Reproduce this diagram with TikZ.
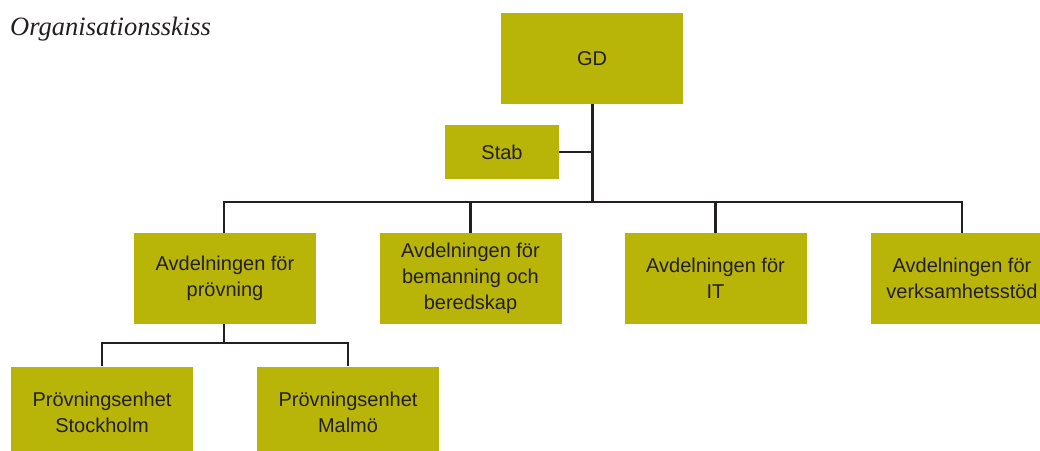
\documentclass[tikz,border=0pt]{standalone}
\usepackage{fontspec}
\setmainfont{Liberation Sans}
\newfontfamily\titlefont{Liberation Serif}
\definecolor{olive}{RGB}{184,180,8}
\definecolor{ink}{RGB}{35,31,32}
\begin{document}
\begin{tikzpicture}[x=1pt,y=-1pt,
    unit/.style={fill=olive,text=ink,align=center,inner sep=0pt,
      minimum width=182pt,minimum height=91pt,
      font=\fontsize{20}{26}\selectfont},
    small/.style={unit,minimum width=114pt,minimum height=54pt},
    link/.style={draw=ink,line width=2.8pt}]
      \clip (0,0) rectangle (1040,450);
      \node[anchor=base west,text=ink,inner sep=0pt,
        font=\titlefont\itshape\fontsize{26.5}{30}\selectfont]
        (title) at (10,35) {Organisationsskiss};
      % the boxes
      \node[unit] (gd) at (592,58.5) {GD};
      \node[small] (stab) at (502,152) {Stab};
      \node[unit] (av1) at (225,278.5) {Avdelningen för\\prövning};
      \node[unit] (av2) at (470.5,278.5) {Avdelningen för\\bemanning och\\beredskap};
      \node[unit] (av3) at (715.5,278.5) {Avdelningen för\\IT};
      \node[unit] (av4) at (962,278.5) {Avdelningen för\\verksamhetsstöd};
      \node[unit] (pe1) at (102,412) {Prövningsenhet\\Stockholm};
      \node[unit] (pe2) at (348,412) {Prövningsenhet\\Malmö};
      \coordinate (bus) at (592.5,202);
      \coordinate (sub) at (224,343);
      \begin{scope}[link]
        \draw (gd.south -| bus) -- (bus);
        \draw (stab.east) -- (stab.east -| bus);
        \draw (av1.north -| sub) |- (bus) -| (av4.north);
        \draw (av2.north) -- (av2.north |- bus);
        \draw (av3.north) -- (av3.north |- bus);
        \draw (av1.south -| sub) -- (sub);
        \draw (pe1.north) |- (sub) -| (pe2.north);
      \end{scope}
    \end{tikzpicture}
\end{document}
